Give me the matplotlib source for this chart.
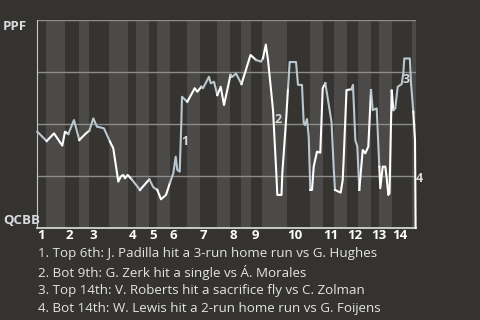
from __future__ import annotations

from typing import List

import matplotlib
matplotlib.use("Agg")
import matplotlib.pyplot as plt

# Win probability for PPF after each play (x = play position in the game)
play_pos = [
    0.0, 3.13, 5.57, 8.33, 9.23, 10.33, 12.23, 14.0, 16.23, 17.33,
    18.67, 19.9, 20.9, 22.23, 24.23, 25.33, 27.0, 27.8, 28.67, 29.23,
    30.13, 31.47, 34.23, 37.33, 38.67, 40.0, 41.23, 42.9, 44.23, 45.33,
    46.13, 46.67, 47.47, 48.0, 48.23, 50.0, 52.47, 53.33, 54.67, 55.23,
    57.23, 57.8, 58.9, 60.0, 61.13, 62.23, 64.4, 64.9, 66.23, 68.07,
    71.07, 72.9, 74.57, 75.23, 76.17, 76.9, 77.8, 78.57, 79.67, 80.0,
    81.4, 81.67, 83.0, 83.57, 84.13, 86.23, 86.9, 88.23, 88.8, 89.23,
    89.9, 90.47, 91.0, 91.57, 92.13, 93.23, 94.33, 95.13, 96.0, 98.07,
    98.8, 99.23, 101.13, 101.8, 102.13, 103.07, 104.67, 105.23, 106.0, 106.67,
    107.33, 108.47, 109.33, 110.33, 111.23, 111.8, 113.13, 114.0, 114.33, 115.13,
    116.0, 116.47, 117.0, 117.4, 118.13, 118.67, 119.33, 120.13, 121.47, 122.0,
    122.33, 124.17, 124.57, 125.33, 125.9, 126.1,
]
win_prob = [
    0.463, 0.418, 0.455, 0.396, 0.463, 0.452, 0.519, 0.423, 0.455, 0.468,
    0.527, 0.487, 0.484, 0.479, 0.415, 0.383, 0.223, 0.247, 0.255, 0.239,
    0.255, 0.234, 0.183, 0.234, 0.196, 0.183, 0.138, 0.159, 0.218, 0.263,
    0.343, 0.279, 0.271, 0.503, 0.631, 0.607, 0.672, 0.655, 0.679, 0.672,
    0.727, 0.696, 0.703, 0.639, 0.679, 0.591, 0.736, 0.726, 0.743, 0.692,
    0.832, 0.808, 0.800, 0.816, 0.882, 0.808, 0.679, 0.567, 0.263, 0.159,
    0.159, 0.263, 0.535, 0.672, 0.798, 0.798, 0.688, 0.688, 0.503, 0.495,
    0.524, 0.439, 0.183, 0.183, 0.295, 0.367, 0.362, 0.672, 0.696, 0.510,
    0.288, 0.183, 0.170, 0.231, 0.335, 0.663, 0.667, 0.688, 0.423, 0.391,
    0.183, 0.375, 0.359, 0.391, 0.663, 0.567, 0.575, 0.295, 0.191, 0.295,
    0.295, 0.239, 0.159, 0.167, 0.663, 0.567, 0.575, 0.679, 0.692, 0.744,
    0.815, 0.815, 0.696, 0.559, 0.423, 0.0,
]

# Start of each half inning (top 1st, bot 1st, top 2nd, ...), last value = end of game
half_starts = [
    0.0, 2.9, 9.33, 13.8, 17.33, 23.9, 30.33, 32.9, 37.33, 40.0,
    44.23, 49.9, 54.23, 60.0, 64.23, 67.9, 71.33, 74.9, 83.33, 90.9,
    95.23, 98.9, 103.23, 106.9, 111.23, 113.9, 118.23, 124.9, 126.23,
]
inning_labels = [str(i) for i in range(1, 15)]

# Key plays marked on the line
note_ids = ["1", "2", "3", "4"]
note_pos = [49.1, 80.2, 123.1, 127.3]
note_prob = [0.418, 0.523, 0.712, 0.236]
notes = [
    "1. Top 6th: J. Padilla hit a 3-run home run vs G. Hughes",
    "2. Bot 9th: G. Zerk hit a single vs Á. Morales",
    "3. Top 14th: V. Roberts hit a sacrifice fly vs C. Zolman",
    "4. Bot 14th: W. Lewis hit a 2-run home run vs G. Foijens",
]

BG = "#353330"
BAND_TOP = "#363431"
BAND_BOT = "#4b4a48"
LINE_TOP = "#b9c7d0"
LINE_BOT = "#ffffff"
TEXT = "#e4e4e4"


def half_index(x: float, starts: List[float]) -> int:
    idx = 0
    for i, s in enumerate(starts[:-1]):
        if x >= s:
            idx = i
    return idx


def main() -> None:
    plt.rcParams["font.family"] = ["Open Sans", "DejaVu Sans"]

    fig = plt.figure(figsize=(4.8, 3.2), dpi=100, facecolor=BG)
    ax = fig.add_axes([37.3 / 480, 1 - 228 / 320, (416 - 37.3) / 480, 208 / 320])
    ax.set_facecolor(BG)

    # half-inning bands
    for i in range(len(half_starts) - 1):
        color = BAND_TOP if i % 2 == 0 else BAND_BOT
        ax.axvspan(half_starts[i], half_starts[i + 1], color=color, lw=0, zorder=0)

    for y in (0.25, 0.5, 0.75, 1.0):
        ax.axhline(y, color="#8c8c8a", lw=1.0, zorder=1)

    # line coloured by the half inning of each play: group into runs of one colour
    run_x = [play_pos[0]]
    run_y = [win_prob[0]]
    run_col = None
    for i in range(len(play_pos) - 1):
        h = half_index(play_pos[i], half_starts)
        col = LINE_TOP if h % 2 == 0 else LINE_BOT
        if run_col is not None and col != run_col:
            ax.plot(run_x, run_y, color=run_col, lw=1.5, zorder=3,
                    solid_joinstyle="round", clip_on=False)
            run_x = [play_pos[i]]
            run_y = [win_prob[i]]
        run_col = col
        run_x.append(play_pos[i + 1])
        run_y.append(win_prob[i + 1])
    ax.plot(run_x, run_y, color=run_col, lw=1.5, zorder=3,
            solid_joinstyle="round", clip_on=False)

    for nid, x, y in zip(note_ids, note_pos, note_prob):
        ax.text(x, y, nid, color="#d8d8d8", fontsize=9, fontweight="bold",
                ha="center", va="center", zorder=4, clip_on=False)

    ax.set_xlim(half_starts[0], half_starts[-1])
    ax.set_ylim(0, 1)

    for spine in ax.spines.values():
        spine.set_visible(False)
    ax.spines["left"].set_visible(True)
    ax.spines["left"].set_color("#c8c8c8")
    ax.spines["bottom"].set_visible(True)
    ax.spines["bottom"].set_color("#e0e0e0")
    ax.spines["bottom"].set_linewidth(1.2)

    ax.set_yticks([])
    inning_starts = half_starts[0:-1:2]
    ax.set_xticks(inning_starts)
    ax.set_xticklabels(inning_labels, fontsize=9.5, fontweight="bold", color="white",
                       ha="left")
    ax.tick_params(axis="x", length=0, pad=1)

    fig.text(3 / 480, 1 - 27 / 320, "PPF", color="#d8dde0", fontsize=9.5,
             fontweight="bold", ha="left", va="center")
    fig.text(3 / 480, 1 - 221 / 320, "QCBB", color="#d8dde0", fontsize=9.5,
             fontweight="bold", ha="left", va="center")

    for k, line in enumerate(notes):
        fig.text(38 / 480, 1 - (254 + 18.2 * k) / 320, line, color=TEXT,
                 fontsize=9.6, ha="left", va="center")

    fig.savefig("out.png", dpi=100, facecolor=BG)


if __name__ == "__main__":
    main()
